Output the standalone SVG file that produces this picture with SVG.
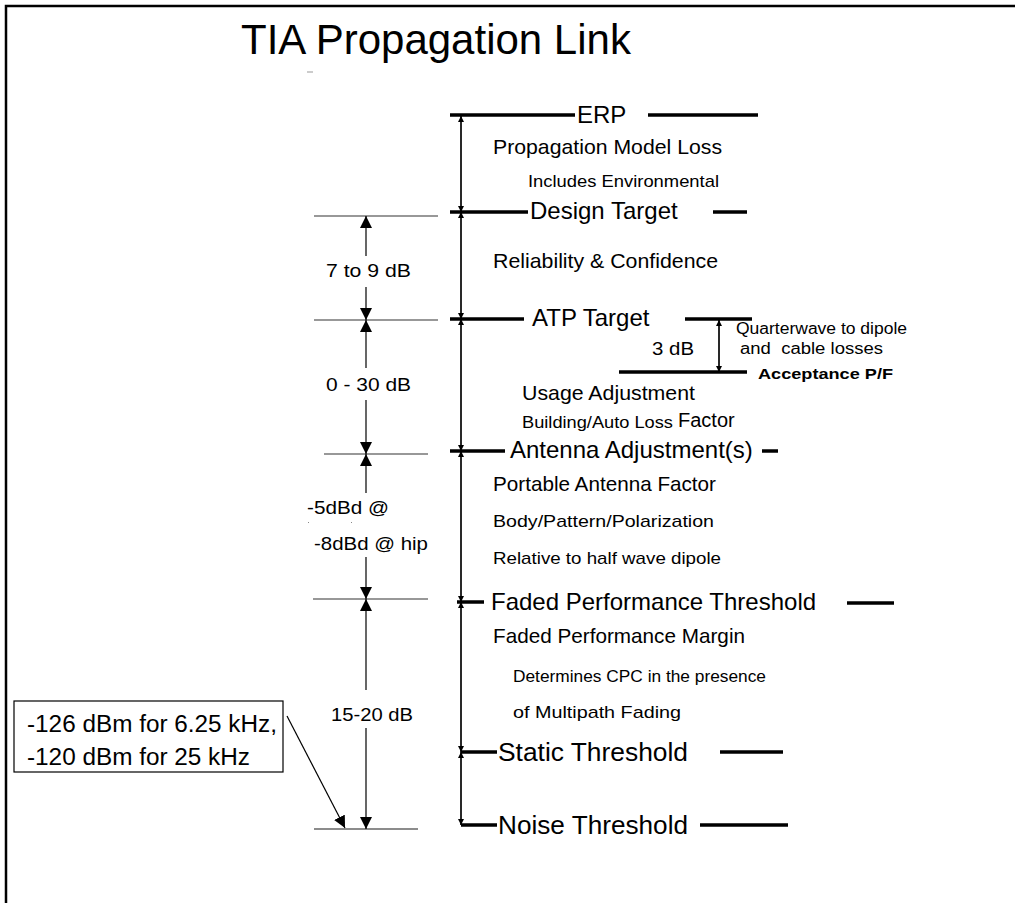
<svg xmlns="http://www.w3.org/2000/svg" width="1015" height="903" viewBox="0 0 1015 903">
<style>
text{font-family:"Liberation Sans",Arial,sans-serif;fill:#000}
.lvl{font-size:24px}
.sub{font-size:21px}
.sm{font-size:17px}
.dim{font-size:19px}
.thick{stroke:#000;stroke-width:3.5;fill:none}
.thin{stroke:#000;stroke-width:1.2;fill:none}
.ref{stroke:#333;stroke-width:1.2;fill:none}
</style>
<defs>
<marker id="ah" viewBox="0 0 10 10" refX="10" refY="5" markerWidth="12" markerHeight="12" markerUnits="userSpaceOnUse" orient="auto"><path d="M0,0 L10,5 L0,10 Z" fill="#000"/></marker>
<marker id="sa" viewBox="0 0 10 10" refX="10" refY="5" markerWidth="6" markerHeight="8" markerUnits="userSpaceOnUse" orient="auto"><path d="M0,0 L10,5 L0,10 Z" fill="#000"/></marker>
</defs>
<rect width="1015" height="903" fill="#fff"/>
<g id="frame">
<path d="M6,903 V6 H1015" stroke="#000" stroke-width="2.5" fill="none"/>
</g>
<g id="title">
<text x="241" y="54" style="font-size:42px">TIA Propagation Link</text>
<line x1="307" y1="72" x2="313" y2="72" stroke="#999" stroke-width="1"/>
</g>
<g id="connectors">
<line class="thin" x1="461" y1="212" x2="461" y2="116" marker-end="url(#sa)"/>
<line class="thin" x1="461" y1="116" x2="461" y2="212" marker-end="url(#sa)"/>
<line class="thin" x1="461" y1="319" x2="461" y2="212" marker-end="url(#sa)"/>
<line class="thin" x1="461" y1="212" x2="461" y2="319" marker-end="url(#sa)"/>
<line class="thin" x1="461" y1="451" x2="461" y2="319" marker-end="url(#sa)"/>
<line class="thin" x1="461" y1="319" x2="461" y2="451" marker-end="url(#sa)"/>
<line class="thin" x1="461" y1="602" x2="461" y2="451" marker-end="url(#sa)"/>
<line class="thin" x1="461" y1="451" x2="461" y2="602" marker-end="url(#sa)"/>
<line class="thin" x1="461" y1="752" x2="461" y2="602" marker-end="url(#sa)"/>
<line class="thin" x1="461" y1="602" x2="461" y2="752" marker-end="url(#sa)"/>
<line class="thin" x1="461" y1="825" x2="461" y2="752" marker-end="url(#sa)"/>
<line class="thin" x1="461" y1="752" x2="461" y2="825" marker-end="url(#sa)"/>
<line class="ref" x1="314" y1="216" x2="438" y2="216"/>
<line class="ref" x1="314" y1="320" x2="438" y2="320"/>
<line class="ref" x1="324" y1="454" x2="428" y2="454"/>
<line class="ref" x1="313" y1="599" x2="428" y2="599"/>
<line stroke="#666" stroke-width="1.5" x1="314" y1="829" x2="418" y2="829"/>
<line class="thin" x1="366" y1="256" x2="366" y2="216" marker-end="url(#ah)"/>
<line class="thin" x1="366" y1="287" x2="366" y2="320" marker-end="url(#ah)"/>
<line class="thin" x1="366" y1="368" x2="366" y2="320" marker-end="url(#ah)"/>
<line class="thin" x1="366" y1="400" x2="366" y2="454" marker-end="url(#ah)"/>
<line class="thin" x1="366" y1="493" x2="366" y2="454" marker-end="url(#ah)"/>
<line class="thin" x1="366" y1="557" x2="366" y2="599" marker-end="url(#ah)"/>
<line class="thin" x1="366" y1="690" x2="366" y2="599" marker-end="url(#ah)"/>
<line class="thin" x1="366" y1="728" x2="366" y2="829" marker-end="url(#ah)"/>
<line class="thin" x1="719" y1="372" x2="719" y2="320" marker-end="url(#sa)"/>
<line class="thin" x1="719" y1="320" x2="719" y2="372" marker-end="url(#sa)"/>
<line class="thin" x1="287" y1="716" x2="345" y2="828" marker-end="url(#ah)"/>
</g>
<g id="erp">
<line class="thick" x1="450" y1="115" x2="575" y2="115"/>
<text class="lvl" x="577" y="123">ERP</text>
<line class="thick" x1="648" y1="115" x2="758" y2="115"/>
<text class="sub" x="493" y="154" textLength="229" lengthAdjust="spacingAndGlyphs">Propagation Model Loss</text>
<text class="sm" x="528" y="187" textLength="191" lengthAdjust="spacingAndGlyphs">Includes Environmental</text>
</g>
<g id="design-target">
<line class="thick" x1="450" y1="212" x2="528" y2="212"/>
<text class="lvl" x="530" y="219">Design Target</text>
<line class="thick" x1="713" y1="212" x2="747" y2="212"/>
<text class="dim" x="326" y="277" textLength="85" lengthAdjust="spacingAndGlyphs">7 to 9 dB</text>
<text class="sub" x="493" y="268" textLength="225" lengthAdjust="spacingAndGlyphs">Reliability &amp; Confidence</text>
</g>
<g id="atp-target">
<line class="thick" x1="450" y1="319" x2="524" y2="319"/>
<text class="lvl" x="532" y="326">ATP Target</text>
<line class="thick" x1="685" y1="319" x2="752" y2="319"/>
<text class="dim" x="652" y="355" textLength="42" lengthAdjust="spacingAndGlyphs">3 dB</text>
<text style="font-size:16px" x="736" y="334" textLength="171" lengthAdjust="spacingAndGlyphs">Quarterwave to dipole</text>
<text style="font-size:16px" x="740" y="354" xml:space="preserve" textLength="143" lengthAdjust="spacingAndGlyphs">and  cable losses</text>
<line class="thick" x1="619" y1="372" x2="747" y2="372"/>
<text style="font-size:15px;font-weight:bold" x="758" y="379" textLength="135" lengthAdjust="spacingAndGlyphs">Acceptance P/F</text>
<text class="dim" x="326" y="391" textLength="85" lengthAdjust="spacingAndGlyphs">0 - 30 dB</text>
<text class="sub" x="522" y="400" textLength="173" lengthAdjust="spacingAndGlyphs">Usage Adjustment</text>
<text class="sm" x="522" y="428" textLength="151" lengthAdjust="spacingAndGlyphs">Building/Auto Loss</text>
<text style="font-size:20px" x="678" y="427">Factor</text>
</g>
<g id="antenna-adjustment">
<line class="thick" x1="450" y1="451" x2="505" y2="451"/>
<text class="lvl" x="510" y="458">Antenna Adjustment(s)</text>
<line class="thick" x1="762" y1="451" x2="778" y2="451"/>
<text class="dim" x="307" y="514" textLength="82" lengthAdjust="spacingAndGlyphs">-5dBd @</text>
<rect x="308" y="522" width="1" height="1" fill="#888"/>
<rect x="351" y="522" width="1" height="1" fill="#888"/>
<text class="dim" x="314" y="550" textLength="114" lengthAdjust="spacingAndGlyphs">-8dBd @ hip</text>
<text class="sub" x="493" y="491" textLength="223" lengthAdjust="spacingAndGlyphs">Portable Antenna Factor</text>
<text class="sm" x="493" y="527" textLength="221" lengthAdjust="spacingAndGlyphs">Body/Pattern/Polarization</text>
<text class="sm" x="493" y="564" textLength="228" lengthAdjust="spacingAndGlyphs">Relative to half wave dipole</text>
</g>
<g id="faded-threshold">
<line class="thick" x1="457" y1="602" x2="484" y2="602"/>
<text class="lvl" x="491" y="610">Faded Performance Threshold</text>
<line class="thick" x1="847" y1="603" x2="894" y2="603"/>
<text class="sub" x="493" y="643" textLength="252" lengthAdjust="spacingAndGlyphs">Faded Performance Margin</text>
<text class="sm" x="513" y="682" textLength="253" lengthAdjust="spacingAndGlyphs">Determines CPC in the presence</text>
<text class="sm" x="513" y="718" textLength="168" lengthAdjust="spacingAndGlyphs">of Multipath Fading</text>
<text class="dim" x="331" y="721" textLength="82" lengthAdjust="spacingAndGlyphs">15-20 dB</text>
</g>
<g id="static-threshold">
<line class="thick" x1="461" y1="752" x2="497" y2="752"/>
<text style="font-size:26px" x="498" y="761" textLength="190" lengthAdjust="spacingAndGlyphs">Static Threshold</text>
<line class="thick" x1="720" y1="752" x2="783" y2="752"/>
</g>
<g id="noise-threshold">
<line class="thick" x1="461" y1="825" x2="497" y2="825"/>
<text style="font-size:26px" x="498" y="834" textLength="190" lengthAdjust="spacingAndGlyphs">Noise Threshold</text>
<line class="thick" x1="700" y1="825" x2="788" y2="825"/>
</g>
<g id="note">
<rect x="14" y="701" width="269" height="71" fill="#fff" stroke="#000" stroke-width="1.2"/>
<text style="font-size:23px" x="27" y="732" textLength="250" lengthAdjust="spacingAndGlyphs">-126 dBm for 6.25 kHz,</text>
<text style="font-size:23px" x="27" y="765" textLength="223" lengthAdjust="spacingAndGlyphs">-120 dBm for 25 kHz</text>
</g>
</svg>
